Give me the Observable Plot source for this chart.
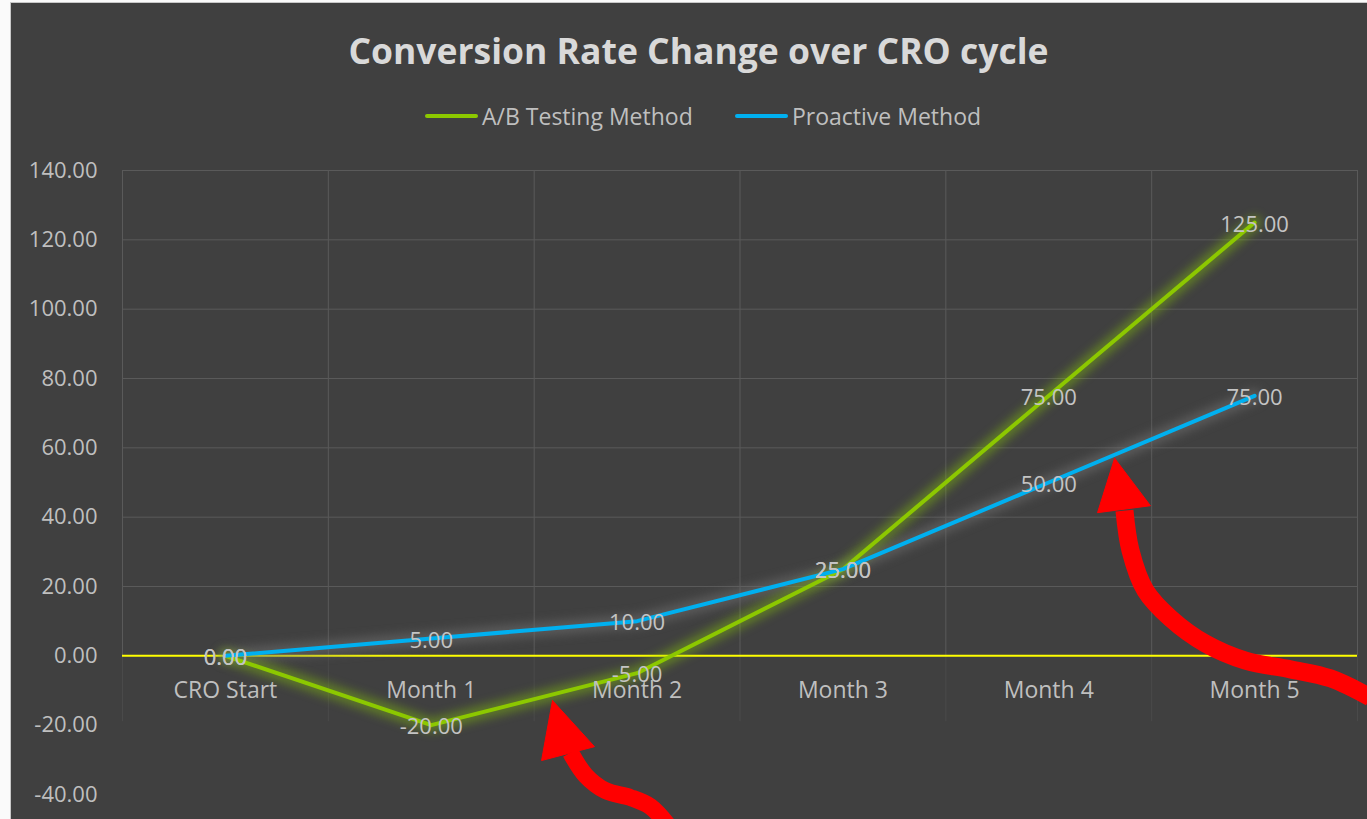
<!DOCTYPE html>
<html><head><meta charset="utf-8">
<script src="https://cdn.jsdelivr.net/npm/d3@7"></script>
<script src="https://cdn.jsdelivr.net/npm/@observablehq/plot@0.6"></script>
<style>
html,body{margin:0;padding:0;background:#fafafa;width:1367px;height:819px;overflow:hidden;font-family:"Open Sans",sans-serif;}
#chart{position:absolute;left:10px;top:2px;width:1356px;height:860px;background:#404040;border-left:1px solid #c8c8c8;border-top:1px solid #c8c8c8;overflow:hidden;}
#title{position:absolute;left:19px;width:1337px;top:27px;line-height:40px;text-align:center;font-size:35.5px;font-weight:700;color:#d9d9d9;white-space:nowrap;}
.leg{position:absolute;top:98px;height:30px;display:flex;align-items:center;font-size:23px;color:#bfbfbf;white-space:nowrap;}
.sw{width:53px;height:4px;border-radius:2px;margin-right:4px;}
#plot{position:absolute;left:0;top:137px;}
g[stroke="#8ccf02"],g[stroke="#6b6b6b"]{filter:blur(5px);}
</style></head>
<body>
<div id="chart">
  <div id="title"></div>
  <div id="legend"></div>
  <div id="plot"></div>
</div>
<script>
const titleText = "Conversion Rate Change over CRO cycle";
const categories = ["CRO Start", "Month 1", "Month 2", "Month 3", "Month 4", "Month 5"];
const seriesNames = ["A/B Testing Method", "Proactive Method"];
const seriesColors = ["#8cc800", "#00b0f0"];
const abTesting = [0, -20, -5, 25, 75, 125];
const proactive = [0, 5, 10, 25, 50, 75];
const yTicks = [-40, -20, 0, 20, 40, 60, 80, 100, 120, 140];

// red hand-drawn annotation arrows (data space: category index, value)
const arrow1Shaft = [[1.677,-27.9],[1.750,-34.5],[1.847,-38.9],[1.968,-40.9],[2.065,-43.5],[2.152,-49.0]];
const arrow1Head = [[1.589,-12.9],[1.536,-30.2],[1.793,-26.2],[1.589,-12.9]];
const arrow2Shaft = [[4.368,41.9],[4.397,30.4],[4.470,18.8],[4.592,10.8],[4.762,3.5],[4.956,-1.4],[5.174,-3.9],[5.368,-6.5],[5.562,-12.0]];
const arrow2Head = [[4.320,57.0],[4.237,41.3],[4.494,43.3],[4.320,57.0]];

document.getElementById("title").textContent = titleText;
const legend = document.getElementById("legend");
const legLefts = [414, 724];
seriesNames.forEach((n, i) => {
  const d = document.createElement("div");
  d.className = "leg";
  d.style.left = legLefts[i] + "px";
  d.innerHTML = `<div class="sw" style="background:${seriesColors[i]}"></div><span></span>`;
  d.querySelector("span").textContent = n;
  legend.appendChild(d);
});

const ab = categories.map((c, i) => ({i, c, v: abTesting[i]}));
const pr = categories.map((c, i) => ({i, c, v: proactive[i]}));
const bounds = d3.range(categories.length + 1).map(i => i - 0.5);
const fmt = d => d.toFixed(2);

const chart = Plot.plot({
  width: 1356, height: 700,
  marginLeft: 111, marginRight: 10, marginTop: 30, marginBottom: 46,
  x: {domain: [-0.5, categories.length - 0.5], axis: null},
  y: {domain: [-40, 140], axis: null},
  style: {background: "transparent", color: "#bfbfbf", fontSize: "22px", fontFamily: "Open Sans, sans-serif"},
  marks: [
    Plot.ruleY(yTicks.filter(v => v > 0), {stroke: "#5a5a5a", strokeWidth: 1}),
    Plot.ruleX(bounds, {y1: 0, y2: 140, stroke: "#5a5a5a", strokeWidth: 1}),
    Plot.ruleX(bounds, {y1: -19, y2: 0, stroke: "#4a4a4a", strokeWidth: 1}),
    Plot.ruleY([0], {stroke: "#ffff00", strokeWidth: 2}),
    Plot.line(pr, {x: "i", y: "v", stroke: "#6b6b6b", strokeWidth: 14, strokeOpacity: 0.6}),
    Plot.line(ab, {x: "i", y: "v", stroke: "#8ccf02", strokeWidth: 14, strokeOpacity: 0.4}),
    Plot.line(ab, {x: "i", y: "v", stroke: seriesColors[0], strokeWidth: 4, strokeLinecap: "round"}),
    Plot.line(pr, {x: "i", y: "v", stroke: seriesColors[1], strokeWidth: 4, strokeLinecap: "round"}),
    Plot.text(ab, {x: "i", y: "v", text: d => fmt(d.v), dy: 2, fill: "#c4c4c4"}),
    Plot.text(pr, {x: "i", y: "v", text: d => fmt(d.v), dy: 2, fill: "#c4c4c4"}),
    Plot.text(categories, {x: (d, i) => i, y: 0, text: d => d, dy: 35, fill: "#bfbfbf", fontSize: 23}),
    Plot.axisY({ticks: yTicks, tickFormat: fmt, tickSize: 0, tickPadding: 25, fill: "#bfbfbf"}),
    Plot.line(arrow1Shaft, {x: "0", y: "1", stroke: "#ff0000", strokeWidth: 17, curve: "catmull-rom", strokeLinecap: "butt"}),
    Plot.line(arrow1Head, {x: "0", y: "1", stroke: "#ff0000", fill: "#ff0000", strokeWidth: 1}),
    Plot.line(arrow2Shaft, {x: "0", y: "1", stroke: "#ff0000", strokeWidth: 18, curve: "catmull-rom", strokeLinecap: "butt"}),
    Plot.line(arrow2Head, {x: "0", y: "1", stroke: "#ff0000", fill: "#ff0000", strokeWidth: 1})
  ]
});
document.getElementById("plot").appendChild(chart);
</script>
</body></html>
